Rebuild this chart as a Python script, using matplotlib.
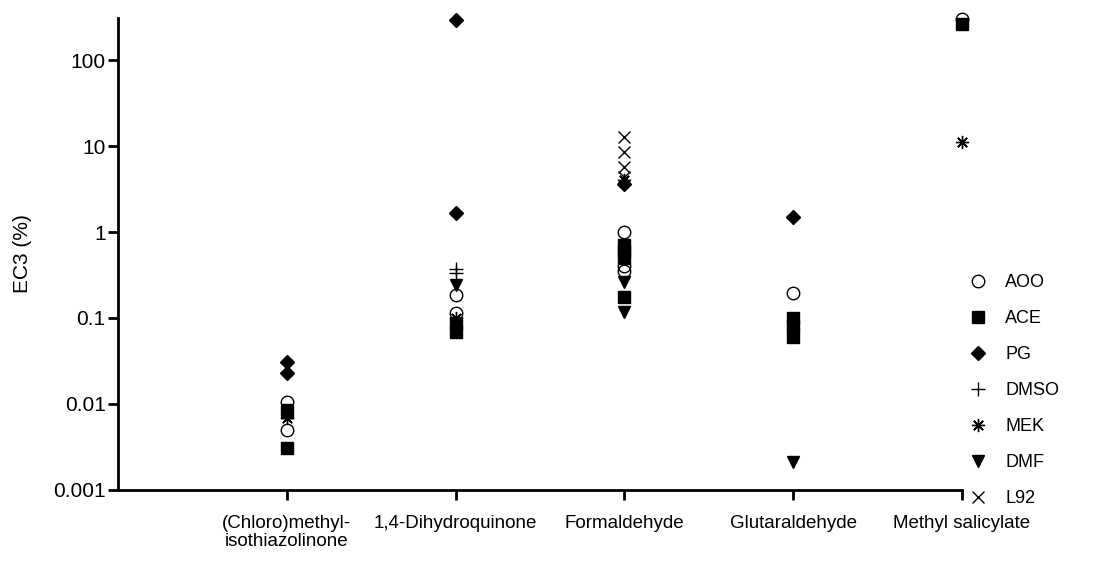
import numpy as np
import matplotlib
matplotlib.use("Agg")
import matplotlib.pyplot as plt

plt.rcParams['font.family'] = ['Liberation Sans', 'DejaVu Sans']

# categories on the x axis
categories = ['(Chloro)methyl-\nisothiazolinone', '1,4-Dihydroquinone',
              'Formaldehyde', 'Glutaraldehyde', 'Methyl salicylate']

# EC3 values (%) per vehicle, one list per category
aoo = [[0.0105, 0.005], [0.185, 0.114], [1.0, 0.4, 0.35], [0.195], [300]]
ace = [[0.0081, 0.0031], [0.087, 0.069], [0.7, 0.6, 0.5, 0.175],
       [0.1, 0.08, 0.06], [262]]
pg = [[0.031, 0.023], [290, 1.66], [3.6], [1.49], []]
dmso = [[], [0.37, 0.33], [], [], []]
mek = [[0.0069], [0.1], [4.0], [0.075], [11.1]]
dmf = [[0.0085], [0.24], [0.26, 0.117], [0.0021], []]
l92 = [[], [], [12.7, 8.5, 5.7, 4.4], [], []]

series = [('AOO', aoo, 'o', 'none'),
          ('ACE', ace, 's', 'k'),
          ('PG', pg, 'D', 'k'),
          ('DMSO', dmso, '+', 'k'),
          ('MEK', mek, (8, 2, 0), 'k'),
          ('DMF', dmf, 'v', 'k'),
          ('L92', l92, 'x', 'k')]
msize = {'o': 9, 's': 8, 'D': 7, '+': 9.5, 'v': 8.5, 'x': 9}

fig = plt.figure(figsize=(11.05, 5.63), dpi=100)
ax = fig.add_axes([0.1068, 0.1297, 0.7638, 0.8383])

for name, vals, mk, fc in series:
    xs = []
    ys = []
    for i, v in enumerate(vals):
        xs += [i + 1] * len(v)
        ys += v
    ms = msize.get(mk, 9.5)
    ax.plot(xs, ys, linestyle='none', marker=mk, markersize=ms,
            markerfacecolor=fc, markeredgecolor='k', markeredgewidth=1.0,
            color='k', label=name, clip_on=False)

ax.set_yscale('log')
ax.set_ylim(0.001, 308)
ax.set_xlim(0, 5)
ax.set_yticks([0.001, 0.01, 0.1, 1, 10, 100])
ax.set_yticklabels(['0.001', '0.01', '0.1', '1', '10', '100'])
ax.minorticks_off()
ax.set_xticks(range(1, 6))
ax.set_xticklabels(categories, fontsize=13.5, linespacing=1.1)
ax.tick_params(axis='y', labelsize=15, pad=2)
ax.tick_params(direction='out', length=7, width=2)
ax.tick_params(axis='x', pad=11)
ax.set_ylabel('EC3 (%)', fontsize=15, labelpad=15)

for side in ['top', 'right']:
    ax.spines[side].set_visible(False)
for side in ['left', 'bottom']:
    ax.spines[side].set_linewidth(2)

ax.legend(loc='center left', bbox_to_anchor=(0.989, 0.21), frameon=False,
          fontsize=13, labelspacing=1.05, handletextpad=0.5,
          markerscale=1.0, borderaxespad=0)

fig.savefig('out.png', dpi=100, facecolor='w')
